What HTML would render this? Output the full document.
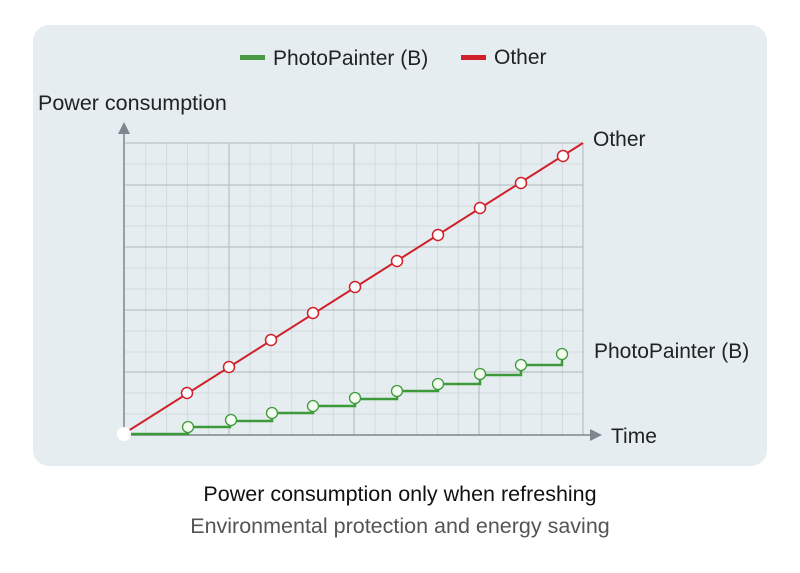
<!DOCTYPE html>
<html><head><meta charset="utf-8"><style>
body{margin:0;background:#fff;width:800px;height:568px;overflow:hidden;font-family:"Liberation Sans",sans-serif}
</style></head><body>
<svg width="800" height="568" xmlns="http://www.w3.org/2000/svg" font-family="Liberation Sans, sans-serif">
<rect x="33" y="25" width="734" height="441" rx="16" fill="#e6edf1"/>
<g stroke="#d3dbe0" stroke-width="1">
<line x1="145.8" y1="143" x2="145.8" y2="435"/><line x1="166.6" y1="143" x2="166.6" y2="435"/><line x1="187.5" y1="143" x2="187.5" y2="435"/><line x1="208.3" y1="143" x2="208.3" y2="435"/>
<line x1="250" y1="143" x2="250" y2="435"/><line x1="270.8" y1="143" x2="270.8" y2="435"/><line x1="291.6" y1="143" x2="291.6" y2="435"/><line x1="312.5" y1="143" x2="312.5" y2="435"/><line x1="333.3" y1="143" x2="333.3" y2="435"/>
<line x1="375" y1="143" x2="375" y2="435"/><line x1="395.8" y1="143" x2="395.8" y2="435"/><line x1="416.6" y1="143" x2="416.6" y2="435"/><line x1="437.5" y1="143" x2="437.5" y2="435"/><line x1="458.3" y1="143" x2="458.3" y2="435"/>
<line x1="500" y1="143" x2="500" y2="435"/><line x1="520.8" y1="143" x2="520.8" y2="435"/><line x1="541.6" y1="143" x2="541.6" y2="435"/><line x1="562.5" y1="143" x2="562.5" y2="435"/>
<line x1="125" y1="164" x2="583" y2="164"/><line x1="125" y1="206" x2="583" y2="206"/><line x1="125" y1="226" x2="583" y2="226"/><line x1="125" y1="268" x2="583" y2="268"/><line x1="125" y1="289" x2="583" y2="289"/><line x1="125" y1="331" x2="583" y2="331"/><line x1="125" y1="352" x2="583" y2="352"/><line x1="125" y1="393" x2="583" y2="393"/><line x1="125" y1="414" x2="583" y2="414"/>
</g>
<g stroke="#aeb8be" stroke-width="1">
<line x1="125" y1="143" x2="583" y2="143"/><line x1="125" y1="185" x2="583" y2="185"/><line x1="125" y1="247" x2="583" y2="247"/><line x1="125" y1="310" x2="583" y2="310"/><line x1="125" y1="372" x2="583" y2="372"/>
<line x1="229" y1="143" x2="229" y2="435"/><line x1="354" y1="143" x2="354" y2="435"/><line x1="479" y1="143" x2="479" y2="435"/><line x1="583" y1="143" x2="583" y2="435"/>
</g>
<g stroke="#7d878d" stroke-width="1.5"><line x1="124" y1="133" x2="124" y2="435"/><line x1="124" y1="435" x2="592" y2="435"/></g>
<polygon points="124,122 118,134 130,134" fill="#7d878d"/>
<polygon points="602,435 590,429 590,441" fill="#7d878d"/>
<polyline points="125,434 188,434 188,427 230,427 230,421 272,421 272,413 313,413 313,406 355,406 355,399 397,399 397,391 438,391 438,384 480,384 480,375 521,375 521,365 562,365 562,354" fill="none" stroke="#3d9a3a" stroke-width="2.5"/>
<line x1="125" y1="433" x2="583" y2="143" stroke="#d0202a" stroke-width="2"/>
<g fill="#fff" stroke="#d0202a" stroke-width="1.5">
<circle cx="187" cy="393" r="5.5"/><circle cx="229" cy="367" r="5.5"/><circle cx="271" cy="340" r="5.5"/><circle cx="313" cy="313" r="5.5"/><circle cx="355" cy="287" r="5.5"/><circle cx="397" cy="261" r="5.5"/><circle cx="438" cy="235" r="5.5"/><circle cx="480" cy="208" r="5.5"/><circle cx="521" cy="183" r="5.5"/><circle cx="563" cy="156" r="5.5"/>
</g>
<g fill="#f4fbef" stroke="#3d9a3a" stroke-width="1.3">
<circle cx="188" cy="427" r="5.5"/><circle cx="231" cy="420" r="5.5"/><circle cx="272" cy="413" r="5.5"/><circle cx="313" cy="406" r="5.5"/><circle cx="355" cy="398" r="5.5"/><circle cx="397" cy="391" r="5.5"/><circle cx="438" cy="384" r="5.5"/><circle cx="480" cy="374" r="5.5"/><circle cx="521" cy="365" r="5.5"/><circle cx="562" cy="354" r="5.5"/>
</g>
<circle cx="124" cy="434" r="7" fill="#fff"/>
<rect x="240" y="55" width="25" height="5" fill="#4a9a45"/>
<text x="273" y="65" font-size="21" fill="#222">PhotoPainter (B)</text>
<rect x="461" y="55" width="25" height="5" fill="#d0202a"/>
<text x="494" y="64" font-size="21" fill="#222">Other</text>
<text x="38" y="110" font-size="21.5" fill="#222">Power consumption</text>
<text x="593" y="146" font-size="21" fill="#222">Other</text>
<text x="594" y="358" font-size="21" fill="#222">PhotoPainter (B)</text>
<text x="611" y="443" font-size="21" fill="#222">Time</text>
<text x="400" y="501" font-size="21.5" fill="#111" text-anchor="middle">Power consumption only when refreshing</text>
<text x="400" y="533" font-size="21.5" fill="#555" text-anchor="middle">Environmental protection and energy saving</text>
</svg>
</body></html>
